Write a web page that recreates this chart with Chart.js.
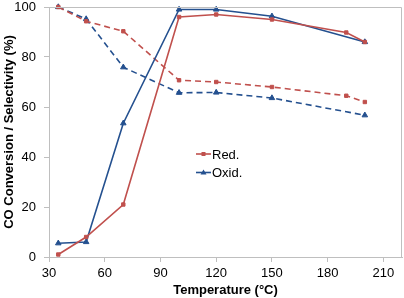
<!DOCTYPE html>
<html>
<head>
<meta charset="utf-8">
<script src="https://cdn.jsdelivr.net/npm/chart.js@4"></script>
<style>
  html, body { margin: 0; padding: 0; background: #fff; }
  #wrap { width: 404px; height: 298px; }
</style>
</head>
<body>
<div id="wrap"><canvas id="chart" width="404" height="298"></canvas></div>
<script>
const redTemps = [35, 50, 70, 100, 120, 150, 190, 200];
const oxidTemps = [35, 50, 70, 100, 120, 150, 200];

const redConversion = [1, 8, 21, 96, 97, 95, 89.8, 86];
const oxidConversion = [5.5, 6, 53.5, 99, 99, 96.3, 86];
const redSelectivity = [100, 94.3, 90.3, 70.7, 70, 68, 64.5, 62];
const oxidSelectivity = [100, 95.2, 75.9, 65.7, 65.8, 63.6, 56.7];

const legendLabels = ['Red.', 'Oxid.'];
const xTicks = [30, 60, 90, 120, 150, 180, 210];
const yTicks = [0, 20, 40, 60, 80, 100];

const RED = '#C0504D';
const BLUE = '#24508F';
const AXIS = '#BFBFBF';
const FONT = 'Liberation Sans, Arial, sans-serif';

const toPoints = (xs, ys) => xs.map((x, i) => ({ x, y: ys[i] }));

const series = (label, xs, ys, color, marker, dashed, inLegend) => ({
  label,
  data: toPoints(xs, ys),
  borderColor: color,
  backgroundColor: color,
  borderWidth: 1.6,
  borderDash: dashed ? [6, 4] : [],
  pointStyle: marker,
  pointRadius: marker === 'triangle' ? 3.2 : 2.4,
  pointBorderWidth: 1,
  tension: 0,
  clip: false,
  inLegend,
});

// plot frame + legend drawn inside the plot area
const framePlugin = {
  id: 'frame',
  afterDraw(chart) {
    const { ctx, chartArea: a } = chart;
    ctx.save();
    ctx.strokeStyle = AXIS;
    ctx.lineWidth = 1;
    ctx.beginPath();
    ctx.moveTo(a.left, a.top + 0.5);
    ctx.lineTo(a.right - 0.5, a.top + 0.5);
    ctx.lineTo(a.right - 0.5, a.bottom);
    ctx.stroke();

    const items = chart.data.datasets.filter((d) => d.inLegend);
    let y = 154;
    items.forEach((d) => {
      ctx.strokeStyle = d.borderColor;
      ctx.fillStyle = d.borderColor;
      ctx.lineWidth = 1.6;
      ctx.beginPath();
      ctx.moveTo(196, y);
      ctx.lineTo(211, y);
      ctx.stroke();
      if (d.pointStyle === 'rect') {
        ctx.fillRect(201.5, y - 2, 4, 4);
      } else {
        ctx.beginPath();
        ctx.moveTo(203.5, y - 3);
        ctx.lineTo(206.5, y + 2);
        ctx.lineTo(200.5, y + 2);
        ctx.closePath();
        ctx.fill();
      }
      ctx.fillStyle = '#000';
      ctx.font = `13px ${FONT}`;
      ctx.textBaseline = 'middle';
      ctx.fillText(d.label, 212, y + 1);
      y += 18.5;
    });
    ctx.restore();
  },
};

new Chart(document.getElementById('chart'), {
  type: 'line',
  data: {
    datasets: [
      series(legendLabels[0], redTemps, redConversion, RED, 'rect', false, true),
      series(legendLabels[1], oxidTemps, oxidConversion, BLUE, 'triangle', false, true),
      series('Red. sel.', redTemps, redSelectivity, RED, 'rect', true, false),
      series('Oxid. sel.', oxidTemps, oxidSelectivity, BLUE, 'triangle', true, false),
    ],
  },
  options: {
    responsive: false,
    animation: false,
    layout: { autoPadding: false, padding: { top: 7, right: 2, left: 0, bottom: 0 } },
    plugins: {
      legend: { display: false },
      tooltip: { enabled: false },
    },
    scales: {
      x: {
        type: 'linear',
        min: 30,
        max: 220,
        afterBuildTicks: (scale) => {
          scale.ticks = xTicks.map((value) => ({ value }));
        },
        afterFit: (scale) => {
          scale.height = 41;
          scale.paddingLeft = 0;
          scale.paddingRight = 0;
        },
        ticks: {
          color: '#000',
          font: { family: FONT, size: 13 },
          padding: 4,
          maxRotation: 0,
        },
        grid: {
          drawOnChartArea: false,
          tickLength: 5,
          color: AXIS,
        },
        border: { color: AXIS },
        title: {
          display: true,
          text: 'Temperature (°C)',
          color: '#000',
          font: { family: FONT, size: 13, weight: 'bold' },
          padding: { top: 0, bottom: 0 },
        },
      },
      y: {
        min: 0,
        max: 100,
        afterBuildTicks: (scale) => {
          scale.ticks = yTicks.map((value) => ({ value }));
        },
        afterFit: (scale) => {
          scale.width = 49;
          scale.paddingTop = 0;
          scale.paddingBottom = 0;
        },
        ticks: {
          color: '#000',
          font: { family: FONT, size: 13 },
          padding: 8,
        },
        grid: {
          drawOnChartArea: false,
          tickLength: 5,
          color: AXIS,
        },
        border: { color: AXIS },
        title: {
          display: true,
          text: 'CO Conversion / Selectivity (%)',
          color: '#000',
          font: { family: FONT, size: 13, weight: 'bold' },
          padding: { top: 2, bottom: 0 },
        },
      },
    },
  },
  plugins: [framePlugin],
});
</script>
</body>
</html>
